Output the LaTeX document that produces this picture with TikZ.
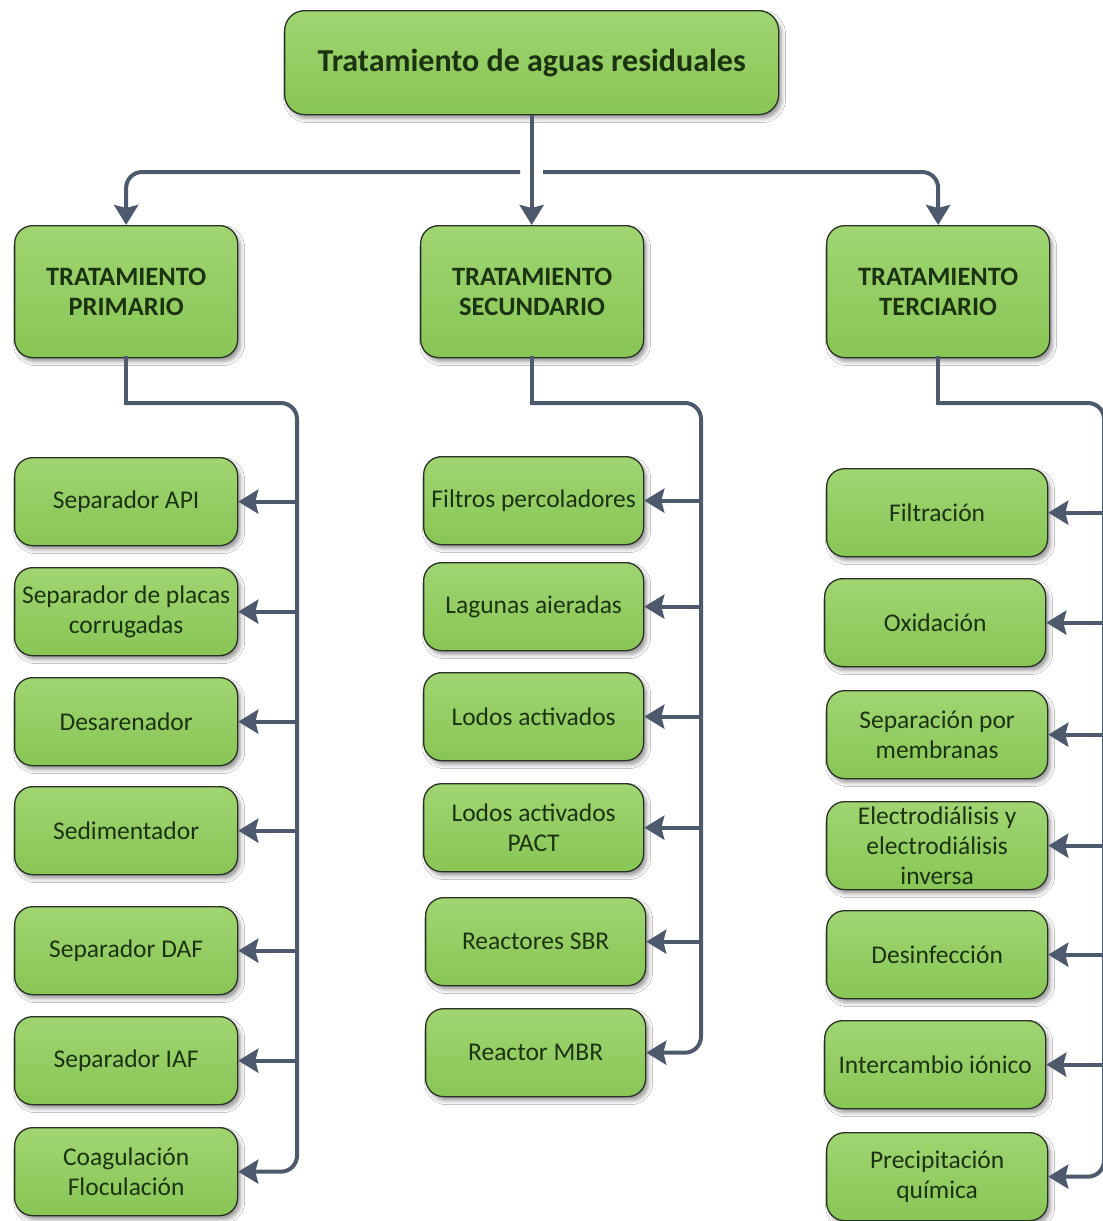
\documentclass[tikz,border=0pt]{standalone}
\usepackage{fontspec}
\setmainfont{Carlito}
\usetikzlibrary{arrows.meta,shadows.blur}

\definecolor{boxtop}{HTML}{A0D572}
\definecolor{boxbot}{HTML}{88C655}
\definecolor{boxline}{HTML}{2A3127}
\definecolor{boxtext}{HTML}{1C3311}
\definecolor{connc}{HTML}{4D5A6E}

\tikzset{
  box/.style={draw=boxline, line width=1.3pt, rounded corners=18pt,
    top color=boxtop, bottom color=boxbot, anchor=north west,
    align=center, text=boxtext, inner sep=2pt,
    blur shadow={shadow xshift=3pt, shadow yshift=-4pt,
      shadow blur radius=4pt, shadow opacity=40}},
  leaf/.style={box, minimum height=88pt, font=\fontsize{25.5}{30}\selectfont},
  branch/.style={box, minimum width=223pt, minimum height=132pt,
    font=\bfseries\fontsize{26.5}{30}\selectfont},
  rootbox/.style={box, rounded corners=20pt, minimum width=494pt,
    minimum height=104pt, font=\bfseries\fontsize{32}{36}\selectfont},
  conn/.style={draw=connc, line width=4pt},
  tip/.style={-{Stealth[length=20pt, width=24pt, inset=3pt]}},
  curve/.style={conn, tip, rounded corners=16pt},
}

\begin{document}
\begin{tikzpicture}[x=1pt, y=-1pt]
\useasboundingbox (0,0) rectangle (1103,1221);
\clip (0,0) rectangle (1103,1221);
\fill[white] (0,0) rectangle (1103,1221);

% root and the three treatment stages
\node[rootbox] (root) at (284,10) {Tratamiento de aguas residuales};
\node[branch] (prim) at (14,225)  {TRATAMIENTO\\PRIMARIO};
\node[branch] (sec)  at (420,225) {TRATAMIENTO\\SECUNDARIO};
\node[branch] (ter)  at (826,225) {TRATAMIENTO\\TERCIARIO};

% primary treatment units
\node[leaf, minimum width=223pt] (p1) at (14,457)  {Separador API};
\node[leaf, minimum width=223pt] (p2) at (14,567)  {Separador de placas\\corrugadas};
\node[leaf, minimum width=223pt] (p3) at (14,677)  {Desarenador};
\node[leaf, minimum width=223pt] (p4) at (14,786)  {Sedimentador};
\node[leaf, minimum width=223pt] (p5) at (14,906)  {Separador DAF};
\node[leaf, minimum width=223pt] (p6) at (14,1016) {Separador IAF};
\node[leaf, minimum width=223pt] (p7) at (14,1127) {Coagulación\\Floculación};

% secondary treatment units
\node[leaf, minimum width=220pt] (s1) at (423,456)  {Filtros percoladores};
\node[leaf, minimum width=220pt] (s2) at (423,562)  {Lagunas aieradas};
\node[leaf, minimum width=220pt] (s3) at (423,672)  {Lodos activados};
\node[leaf, minimum width=220pt] (s4) at (423,783)  {Lodos activados\\PACT};
\node[leaf, minimum width=220pt] (s5) at (425,897)  {Reactores SBR};
\node[leaf, minimum width=220pt] (s6) at (425,1008) {Reactor MBR};

% tertiary treatment units
\node[leaf, minimum width=221pt] (t1) at (826,468)  {Filtración};
\node[leaf, minimum width=221pt] (t2) at (824,578)  {Oxidación};
\node[leaf, minimum width=221pt] (t3) at (826,690)  {Separación por\\membranas};
\node[leaf, minimum width=221pt] (t4) at (826,801)  {Electrodiálisis y\\electrodiálisis\\inversa};
\node[leaf, minimum width=221pt] (t5) at (826,910)  {Desinfección};
\node[leaf, minimum width=221pt] (t6) at (824,1020) {Intercambio iónico};
\node[leaf, minimum width=221pt] (t7) at (826,1132) {Precipitación\\química};

% root to stages (the horizontal line hops over the vertical one)
\coordinate (hopL) at (520,172);
\coordinate (hopR) at (543,172);
\draw[conn, tip] (root.south) -- (root.south |- sec.north);
\draw[curve] (hopL) -| (prim.north);
\draw[curve] (hopR) -| (ter.north);

% bus lines down the side of each column
\coordinate (pbus) at (297,403);
\coordinate (sbus) at (701,403);
\coordinate (tbus) at (1104,403);
\draw[conn, line cap=rect] (prim.south) -- (prim.south |- pbus);
\draw[conn, line cap=rect] (sec.south)  -- (sec.south |- sbus);
\draw[conn, line cap=rect] (ter.south)  -- (ter.south |- tbus);
\draw[curve] (prim.south |- pbus) -- (pbus) |- (p7.east);
\draw[curve] (sec.south |- sbus) -- (sbus) |- (s6.east);
\draw[curve] (ter.south |- tbus) -- (tbus) |- (t7.east);

% branches into the units
\foreach \n in {p1,p2,p3,p4,p5,p6}
  \draw[conn, tip] (pbus |- \n.east) -- (\n.east);
\foreach \n in {s1,s2,s3,s4,s5}
  \draw[conn, tip] (sbus |- \n.east) -- (\n.east);
\foreach \n in {t1,t2,t3,t4,t5,t6}
  \draw[conn, tip] (tbus |- \n.east) -- (\n.east);
\end{tikzpicture}
\end{document}
